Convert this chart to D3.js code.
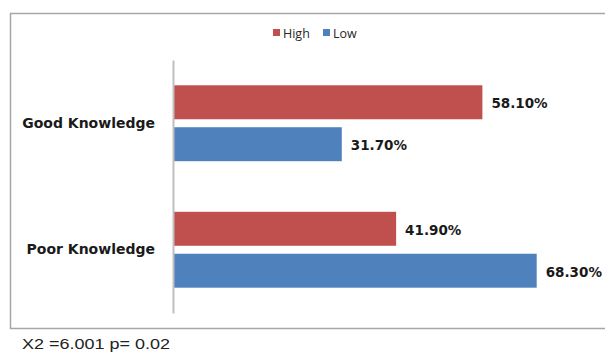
<!DOCTYPE html>
<html>
<head>
<meta charset="utf-8">
<script src="https://cdn.jsdelivr.net/npm/d3@7"></script>
<style>
  body { margin: 0; background: #fff; }
  svg { display: block; }
</style>
</head>
<body>
<div id="chart"></div>
<script>
// --- DATA ---
var categories = ["Good Knowledge", "Poor Knowledge"];
var seriesNames = ["High", "Low"];
var highValues = [58.1, 41.9];
var lowValues = [31.7, 68.3];
var footnote = "X2 =6.001  p= 0.02";

var colors = { High: "#C0504D", Low: "#4F81BD" };

var width = 605, height = 353;

var svg = d3.select("#chart").append("svg")
  .attr("width", width)
  .attr("height", height);

// chart frame (right edge runs off the picture)
svg.append("rect")
  .attr("x", 10.5).attr("y", 13.5)
  .attr("width", 640).attr("height", 315)
  .attr("fill", "#fff")
  .attr("stroke", "#a6a6a6")
  .attr("stroke-width", 1.5);

// --- SCALES ---
var x = d3.scaleLinear().domain([0, 80]).range([173, 599]);

var y0 = d3.scaleBand()
  .domain(categories)
  .range([60, 313])
  .paddingInner(0.4)
  .paddingOuter(0.2);

var y1 = d3.scaleBand()
  .domain(seriesNames)
  .range([0, y0.bandwidth()])
  .paddingInner(0.19);

var rows = categories.map(function(c, i) {
  return { cat: c, vals: [
    { key: "High", value: highValues[i] },
    { key: "Low", value: lowValues[i] }
  ] };
});

// --- BARS ---
var groups = svg.selectAll(".group")
  .data(rows).enter().append("g")
  .attr("class", "group")
  .attr("transform", d => "translate(0," + y0(d.cat) + ")");

groups.selectAll("rect")
  .data(d => d.vals).enter().append("rect")
  .attr("x", x(0))
  .attr("y", d => y1(d.key))
  .attr("width", d => x(d.value) - x(0))
  .attr("height", y1.bandwidth())
  .attr("fill", d => colors[d.key]);

groups.selectAll(".val")
  .data(d => d.vals).enter().append("text")
  .attr("class", "val")
  .attr("x", d => x(d.value) + 9)
  .attr("y", d => y1(d.key) + y1.bandwidth() / 2 + 1)
  .attr("dominant-baseline", "central")
  .attr("font-family", "DejaVu Sans")
  .attr("font-weight", "bold")
  .attr("font-size", "13.5px")
  .attr("fill", "#1a1a1a")
  .text(d => d3.format(".2f")(d.value) + "%");

// --- AXIS (category) ---
var yAxis = d3.axisLeft(y0).tickSize(0).tickPadding(18);
var ax = svg.append("g")
  .attr("transform", "translate(" + x(0) + ",0)")
  .call(yAxis);
ax.select(".domain")
  .attr("stroke", "#bfbfbf")
  .attr("stroke-width", 2);
ax.selectAll("text")
  .attr("font-family", "DejaVu Sans")
  .attr("font-weight", "bold")
  .attr("font-size", "14px")
  .attr("fill", "#1a1a1a");

// --- LEGEND ---
var legendX = [273, 323];
var legend = svg.selectAll(".legend")
  .data(seriesNames).enter().append("g")
  .attr("class", "legend")
  .attr("transform", (d, i) => "translate(" + legendX[i] + ",29)");
legend.append("rect")
  .attr("width", 7).attr("height", 7)
  .attr("fill", d => colors[d]);
legend.append("text")
  .attr("x", 10).attr("y", 4)
  .attr("dominant-baseline", "central")
  .attr("font-family", "Open Sans")
  .attr("font-size", "12.5px")
  .attr("fill", "#262626")
  .text(d => d);

// --- FOOTNOTE ---
svg.append("text")
  .attr("x", 22).attr("y", 349)
  .attr("font-family", "Liberation Sans")
  .attr("font-size", "14px")
  .attr("fill", "#222")
  .attr("textLength", 148)
  .attr("lengthAdjust", "spacingAndGlyphs")
  .text(footnote);
</script>
</body>
</html>
